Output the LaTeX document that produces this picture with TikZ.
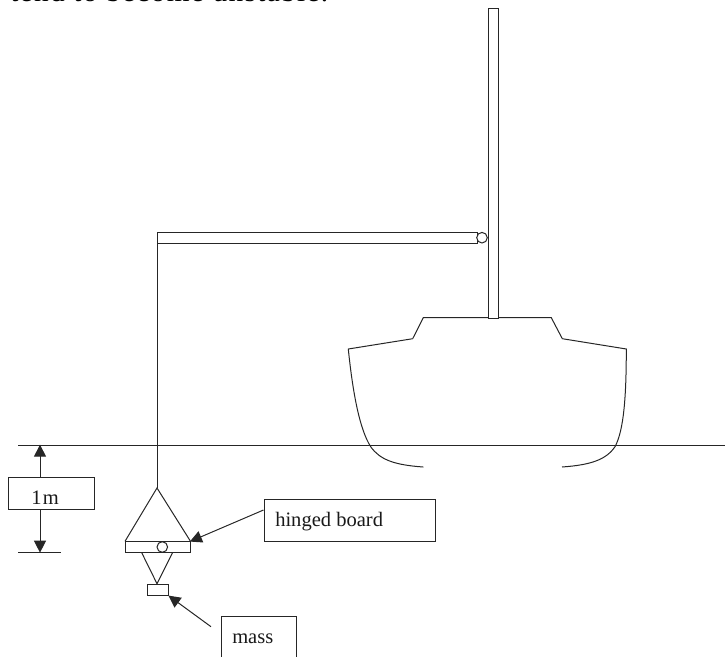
\documentclass[tikz,border=0pt]{standalone}
\usepackage{fontspec}
\setmainfont{Liberation Serif}
\usetikzlibrary{arrows.meta}
\newfontfamily\spacedfont[LetterSpace=4.5]{Liberation Serif}
\tikzset{
  ln/.style={line width=0.75pt,draw=black!85},
  boxn/.style={ln,rectangle,minimum width=0pt,minimum height=0pt,inner sep=0pt,anchor=north west,fill=white},
  lbl/.style={font=\fontsize{15.4pt}{17pt}\selectfont,inner sep=0pt,anchor=base west,text=black!90},
  arr/.style={ln,-{Triangle[length=9pt,width=9pt]},shorten >=-0.5pt},
}
\begin{document}
\begin{tikzpicture}[x=0.75pt,y=-0.75pt]
\useasboundingbox (0,0) rectangle (725,657);
\begin{scope}
\clip (0,0) rectangle (725,657);
\node[inner sep=0pt,anchor=base west,font=\fontsize{22pt}{24pt}\spacedfont] (topline) at (10,1.5) {tend to become unstable.};
% hull
\draw[ln] (412.7,338.7) -- (423.3,317.7) -- (551.3,317.7) -- (562.3,338.7) -- (626.3,349)
  .. controls (626.3,395) and (624,430) .. (615,446.7)
  .. controls (606,460) and (590,465) .. (562,467);
\draw[ln] (412.7,338.7) -- (348.3,349)
  .. controls (353,395) and (360,430) .. (370.7,446.7)
  .. controls (380,460) and (395,465) .. (423.3,467);
% mast, boom
\node[boxn,minimum width=10.8*0.75pt,minimum height=310*0.75pt] (mast) at (487.6,8) {};
\node[boxn,minimum width=319.7*0.75pt,minimum height=11*0.75pt] (boom) at (157,232.3) {};
\node[ln,circle,inner sep=0pt,minimum size=10.6*0.75pt,fill=white] (pivot) at (482,237.7) {};
% water line
\coordinate (wl) at (18,445.3);
\coordinate (wr) at (725,445.3);
\draw[ln] (wl) -- (wr);
\coordinate (dl) at (18,552);
\coordinate (dr) at (61,552);
\draw[ln] (dl) -- (dr);
% depth box
\node[boxn,minimum width=85.5*0.75pt,minimum height=32*0.75pt] (depth) at (8,477.3) {};
\node[lbl] (depthtxt) at (31,504) {1\kern1pt m};
\coordinate (dtop) at (40,445.3);
\coordinate (dbot) at (40,552);
\draw[arr] (depth.north west -| dtop) -- (dtop);
\draw[arr] (depth.south west -| dbot) -- (dbot);
% sinker
\coordinate (apex) at (157,488);
\draw[ln] (boom.north west) -- (apex);
\node[boxn,minimum width=64.5*0.75pt,minimum height=11*0.75pt] (board) at (125,541.3) {};
\draw[ln] (board.north west) -- (apex) -- (board.north east);
\node[ln,circle,inner sep=0pt,minimum size=10.6*0.75pt] (hinge) at (162.3,547) {};
\coordinate (low) at (157,583.7);
\draw[ln] (141.5,552.3) -- (low) -- (172.7,552.3);
\node[boxn,minimum width=21.5*0.75pt,minimum height=11.3*0.75pt] (mass) at (146.5,583.7) {};
% labels
\node[boxn,minimum width=171.5*0.75pt,minimum height=42.3*0.75pt] (hb) at (263.5,498.7) {};
\node[lbl] (hbtxt) at (275,526.7) {hinged board};
\draw[arr] (hb.west |- 0,510) -- (board.north east);
\draw[ln] (221,657) -- (221,616) -- (296,616) -- (296,657);
\node[lbl] (masstxt) at (232,643) {mass};
\coordinate (mfree) at (211,626.7);
\draw[arr] (mfree) -- (mass.south east);
\end{scope}
\end{tikzpicture}
\end{document}
